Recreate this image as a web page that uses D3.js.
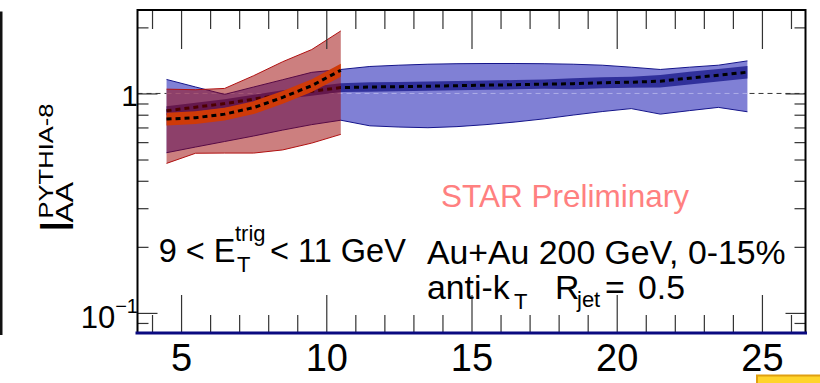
<!DOCTYPE html>
<html>
<head>
<meta charset="utf-8">
<script src="https://cdn.jsdelivr.net/npm/d3@7"></script>
<style>
  html, body { margin: 0; padding: 0; background: #fff; }
  svg { display: block; font-family: "Liberation Sans", Arial, Helvetica, sans-serif; }
</style>
</head>
<body>
<svg id="chart" width="820" height="383"></svg>
<script>
// Jet pT bin centres (GeV/c)
const ptBins = [4.5, 5.5, 6.5, 7.5, 8.5, 9.5, 10.5, 11.5, 12.5, 13.5, 14.5,
                15.5, 16.5, 17.5, 18.5, 19.5, 20.5, 21.5, 22.5, 23.5, 24.5];

// Blue model: central value, outer (systematic) band, inner band
const blueMid   = [0.834, 0.866, 0.899, 0.942, 0.988, 1.024, 1.063, 1.070, 1.074, 1.079, 1.085,
                   1.091, 1.096, 1.102, 1.108, 1.119, 1.125, 1.137, 1.174, 1.211, 1.250];
const blueSysLo = [0.537, 0.570, 0.604, 0.640, 0.681, 0.721, 0.755, 0.712, 0.703, 0.698, 0.706,
                   0.721, 0.741, 0.766, 0.797, 0.827, 0.853, 0.805, 0.835, 0.864, 0.825];
const blueSysHi = [1.158, 1.070, 0.990, 1.070, 1.155, 1.248, 1.286, 1.327, 1.345, 1.359, 1.366,
                   1.369, 1.369, 1.366, 1.359, 1.345, 1.317, 1.286, 1.317, 1.345, 1.407];
const blueInLo  = [0.796, 0.826, 0.858, 0.899, 0.943, 0.977, 1.014, 1.019, 1.023, 1.028, 1.033,
                   1.039, 1.044, 1.050, 1.046, 1.057, 1.062, 1.065, 1.099, 1.134, 1.170];
const blueInHi  = [0.874, 0.908, 0.942, 0.987, 1.035, 1.073, 1.114, 1.124, 1.128, 1.133, 1.139,
                   1.146, 1.151, 1.157, 1.173, 1.185, 1.191, 1.214, 1.254, 1.293, 1.335];

// Red model (low-pT range only)
const redBins  = [4.5, 5.5, 6.5, 7.5, 8.5, 9.5, 10.5];
const redMid   = [0.764, 0.775, 0.805, 0.862, 0.960, 1.085, 1.276];
const redSysLo = [0.480, 0.534, 0.535, 0.535, 0.553, 0.594, 0.651];
const redSysHi = [1.046, 1.040, 1.054, 1.205, 1.395, 1.585, 1.927];
const redInLo  = [0.714, 0.725, 0.753, 0.806, 0.898, 1.014, 1.193];
const redInHi  = [0.817, 0.829, 0.861, 0.922, 1.027, 1.161, 1.365];

// Axis ticks
const xMajor = [5, 10, 15, 20, 25];
const xMinor = [4, 6, 7, 8, 9, 11, 12, 13, 14, 16, 17, 18, 19, 21, 22, 23, 24, 26];
const yMajor = [0.1, 1];
const yMinor = [0.09, 0.2, 0.3, 0.4, 0.5, 0.6, 0.7, 0.8, 0.9, 2];

const svg = d3.select("#chart");
const W = 820, H = 383;
const L = 137.5, R = 805.5, T = 10, B = 333;

const x = d3.scaleLinear().domain([3.5, 26.5]).range([L, R]);
const y = d3.scaleLog().domain([0.081, 2.4]).range([B, T]);

svg.append("rect").attr("width", W).attr("height", H).attr("fill", "#fff");

// slide edge on the left
svg.append("rect").attr("x", 0).attr("y", 11.5).attr("width", 2.5).attr("height", 323.5).attr("fill", "#111");

// band helpers
const band = (xs, lo, hi) => d3.area()
  .x((d, i) => x(xs[i])).y0((d, i) => y(lo[i])).y1((d, i) => y(hi[i]));
const curve = (xs, v) => d3.line().x((d, i) => x(xs[i])).y((d, i) => y(v[i]));

// reference line at unity (below the bands)
svg.append("line")
  .attr("x1", x(3.5)).attr("x2", x(26.5)).attr("y1", y(1)).attr("y2", y(1))
  .attr("stroke", "#333").attr("stroke-width", 1).attr("stroke-dasharray", "5,4");

// ---- blue model ----
svg.append("path").datum(blueMid).attr("d", band(ptBins, blueSysLo, blueSysHi))
  .attr("fill", "#8080d5");
// lighter reference dashes where the line crosses the band
svg.append("line")
  .attr("x1", x(ptBins[0])).attr("x2", x(ptBins[ptBins.length - 1]))
  .attr("y1", y(1)).attr("y2", y(1))
  .attr("stroke", "rgba(190,190,238,0.75)").attr("stroke-width", 1).attr("stroke-dasharray", "5,4");
svg.append("path").datum(blueMid).attr("d", curve(ptBins, blueSysHi))
  .attr("fill", "none").attr("stroke", "#14148a").attr("stroke-width", 1);
svg.append("path").datum(blueMid).attr("d", curve(ptBins, blueSysLo))
  .attr("fill", "none").attr("stroke", "#14148a").attr("stroke-width", 1);
svg.append("path").datum(blueMid).attr("d", band(ptBins, blueInLo, blueInHi))
  .attr("fill", "#30309b");
svg.append("path").datum(blueMid).attr("d", curve(ptBins, blueMid))
  .attr("fill", "none").attr("stroke", "#000").attr("stroke-width", 3).attr("stroke-dasharray", "5,4");

// ---- red model ----
svg.append("path").datum(redMid).attr("d", band(redBins, redSysLo, redSysHi))
  .attr("fill", "rgba(153,0,0,0.5)");
svg.append("path").datum(redMid).attr("d", curve(redBins, redSysHi))
  .attr("fill", "none").attr("stroke", "#b01010").attr("stroke-width", 1);
svg.append("path").datum(redMid).attr("d", curve(redBins, redSysLo))
  .attr("fill", "none").attr("stroke", "#b01010").attr("stroke-width", 1);
svg.append("path").datum(redMid).attr("d", band(redBins, redInLo, redInHi))
  .attr("fill", "#cf3a08");
svg.append("path").datum(redMid).attr("d", curve(redBins, redMid))
  .attr("fill", "none").attr("stroke", "#000").attr("stroke-width", 3).attr("stroke-dasharray", "5,4");

// ---- axes ----
const tickStyle = g => {
  g.select(".domain").remove();
  g.selectAll(".tick line").attr("stroke", "#333").attr("stroke-width", 1.2);
};
const addAxis = (axis, tx, ty) => svg.append("g").attr("transform", `translate(${tx},${ty})`).call(axis).call(tickStyle);

addAxis(d3.axisBottom(x).tickValues(xMinor).tickSize(-18).tickFormat(""), 0, B);
const xLab = addAxis(d3.axisBottom(x).tickValues(xMajor).tickSize(-38).tickPadding(11).tickFormat(d3.format("d")), 0, B);
xLab.selectAll(".tick text").attr("font-size", 38).attr("fill", "#000")
  .attr("font-family", "'Liberation Sans', Arial, sans-serif");
addAxis(d3.axisTop(x).tickValues(xMinor).tickSize(-19).tickFormat(""), 0, T);
addAxis(d3.axisTop(x).tickValues(xMajor).tickSize(-39).tickFormat(""), 0, T);

addAxis(d3.axisLeft(y).tickValues(yMinor).tickSize(-11).tickFormat(""), L, 0);
addAxis(d3.axisLeft(y).tickValues(yMajor).tickSize(-20).tickFormat(""), L, 0);
addAxis(d3.axisRight(y).tickValues(yMinor).tickSize(-11).tickFormat(""), R, 0);
addAxis(d3.axisRight(y).tickValues(yMajor).tickSize(-20).tickFormat(""), R, 0);

// y tick labels
svg.append("text").attr("x", 138).attr("y", y(1) + 12.5)
  .attr("text-anchor", "end").attr("font-size", 30).text("1");
const dec = svg.append("text").attr("x", 138).attr("y", y(0.1) + 15)
  .attr("text-anchor", "end").attr("font-size", 31);
dec.append("tspan").text("10");
dec.append("tspan").attr("font-size", 20).attr("dy", -15).text("\u22121");

// frame
svg.append("rect").attr("x", L).attr("y", T).attr("width", R - L).attr("height", B - T)
  .attr("fill", "none").attr("stroke", "#000").attr("stroke-width", 2);
svg.append("line").attr("x1", L - 2).attr("x2", R + 1.5).attr("y1", B).attr("y2", B)
  .attr("stroke", "#0a0a80").attr("stroke-width", 3);

// y axis title: I_AA^PYTHIA-8
const yt = svg.append("g").attr("transform", "translate(73,233) rotate(-90)");
yt.append("text").attr("x", 0).attr("y", 0).attr("font-size", 48).text("I");
yt.append("text").attr("x", 10.5).attr("y", 0).attr("font-size", 24)
  .attr("textLength", 40.5).attr("lengthAdjust", "spacingAndGlyphs").text("AA");
yt.append("text").attr("x", 14.5).attr("y", -20.5).attr("font-size", 20.5)
  .attr("textLength", 115).attr("lengthAdjust", "spacingAndGlyphs").text("PYTHIA-8");

// annotations
const label = (tx, ty, size, str, fill) => svg.append("text")
  .attr("x", tx).attr("y", ty).attr("font-size", size).attr("fill", fill || "#000").text(str);

label(441, 206.5, 31.5, "STAR Preliminary", "#ff8080");

label(158.7, 261.7, 32.5, "9 < E");
label(235, 241, 22, "trig");
label(237, 272, 22, "T");
label(270, 261.7, 32.5, "< 11 GeV");

label(427, 263.5, 33.8, "Au+Au 200 GeV, 0-15%");
label(427, 298.5, 33.8, "anti-k");
label(514, 309, 22, "T");
label(555, 298.5, 33.8, "R");
label(577, 307, 22, "jet");
label(605, 298.5, 33.8, "=");
label(638, 298.5, 33.8, "0.5");

// highlight box at lower right
svg.append("rect").attr("x", 757).attr("y", 375.5).attr("width", 70).attr("height", 20)
  .attr("fill", "#ffd42a").attr("stroke", "#e0a010").attr("stroke-width", 2);
</script>
</body>
</html>
